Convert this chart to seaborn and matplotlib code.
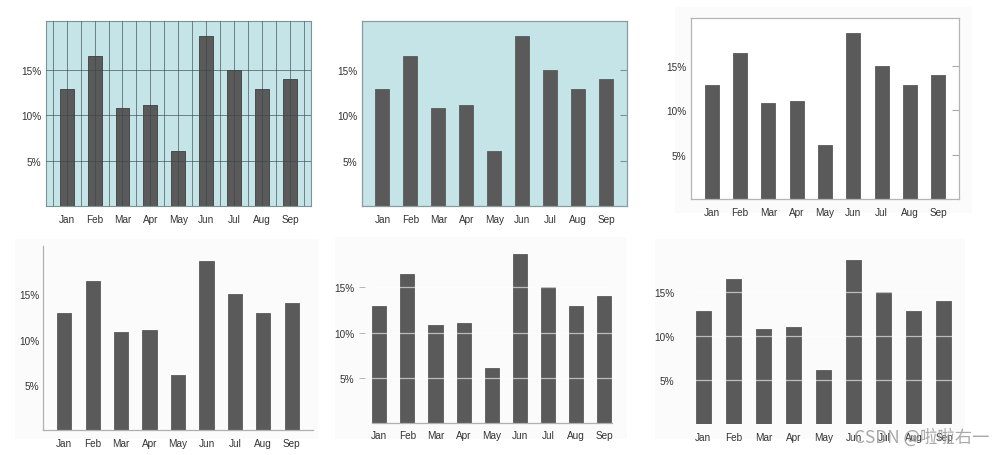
import matplotlib
matplotlib.use("Agg")
import matplotlib.pyplot as plt
import seaborn as sns
from matplotlib.patches import Rectangle

months = ["Jan", "Feb", "Mar", "Apr", "May", "Jun", "Jul", "Aug", "Sep"]
values = [12.9, 16.5, 10.8, 11.1, 6.1, 18.7, 15.0, 12.9, 14.0]
ytick_vals = [5, 10, 15]
ytick_labels = ["5%", "10%", "15%"]

sns.set_style("white")
plt.rcParams['font.family'] = ['Liberation Sans', 'Noto Sans CJK SC', 'DejaVu Sans']

W, H = 1005, 456
fig = plt.figure(figsize=(W / 100, H / 100), dpi=100)
fig.patch.set_facecolor("white")

BAR = "#5a5a5a"
TEAL = "#c4e4e7"
FS = 7.2


def rect(x0, y0, x1, y1):
    return [x0 / W, 1 - y1 / H, (x1 - x0) / W, (y1 - y0) / H]


def bg(x0, y0, x1, y1, c="#fbfbfb"):
    fig.patches.append(Rectangle((x0 / W, 1 - y1 / H), (x1 - x0) / W, (y1 - y0) / H,
                                 transform=fig.transFigure, facecolor=c,
                                 edgecolor="none", zorder=-5))


def base(ax, edge=None):
    sns.barplot(x=months, y=values, ax=ax, color=BAR, saturation=1, width=0.5,
                edgecolor=edge if edge else BAR, linewidth=0.6, zorder=2)
    ax.set_xlabel("")
    ax.set_ylabel("")
    ax.set_yticks(ytick_vals)
    ax.set_yticklabels(ytick_labels)
    ax.set_ylim(0, 20.4)
    ax.tick_params(axis="both", labelsize=FS, colors="#333333")
    for lab in ax.get_xticklabels() + ax.get_yticklabels():
        lab.set_color("#333333")


# faint panel backgrounds
bg(675, 8, 972, 214)
bg(15, 240, 318, 440)
bg(335, 238, 627, 440)
bg(655, 240, 965, 440)

# Panel 1: teal with full grid
ax1 = fig.add_axes(rect(45.7, 22, 311, 207))
base(ax1, edge="#3f3f3f")
ax1.set_facecolor(TEAL)
ax1.set_xlim(-0.75, 8.75)
ax1.set_xticks([i - 0.5 for i in range(10)], minor=True)
ax1.grid(True, axis="x", which="both", color="#3a4a4b", linewidth=0.6, alpha=0.75)
ax1.grid(True, axis="y", which="major", color="#3a4a4b", linewidth=0.6, alpha=0.75)
ax1.set_axisbelow(False)
ax1.tick_params(axis="both", which="both", length=0, pad=3)
ax1.tick_params(axis="x", pad=6)
for s in ax1.spines.values():
    s.set_color("#7f9293")
    s.set_linewidth(0.8)

# Panel 2: teal, no grid, ticks inward on right
ax2 = fig.add_axes(rect(361.7, 21.7, 626.7, 207))
base(ax2)
ax2.set_facecolor(TEAL)
ax2.set_xlim(-0.74, 8.74)
ax2.tick_params(axis="x", length=0, pad=6)
ax2.tick_params(axis="y", left=False, right=True, direction="in", length=5,
                color="#7f9293", labelleft=True, labelright=False, pad=3)
for s in ax2.spines.values():
    s.set_color("#8a9c9d")
    s.set_linewidth(0.9)

# Panel 3: white framed, ticks inward on right
ax3 = fig.add_axes(rect(690.7, 19.3, 959.3, 200))
base(ax3)
ax3.set_facecolor("white")
ax3.set_xlim(-0.74, 8.74)
ax3.tick_params(axis="x", length=0, pad=6)
ax3.tick_params(axis="y", left=False, right=True, direction="in", length=5,
                color="#aaaaaa", labelleft=True, labelright=False, pad=3)
for s in ax3.spines.values():
    s.set_color("#b5b5b5")
    s.set_linewidth(0.9)

# Panel 4: left + bottom spines only
ax4 = fig.add_axes(rect(43.3, 246.7, 313, 430.7))
base(ax4)
ax4.set_facecolor("none")
ax4.set_xlim(-0.74, 8.75)
ax4.tick_params(axis="both", length=0, pad=3)
ax4.tick_params(axis="x", pad=6)
for k in ["top", "right"]:
    ax4.spines[k].set_visible(False)
for k in ["left", "bottom"]:
    ax4.spines[k].set_color("#b0b0b0")
    ax4.spines[k].set_linewidth(0.9)

# Panel 5: bottom spine, white grid over bars, offset ticks
ax5 = fig.add_axes(rect(371.7, 239.3, 611.7, 424.3))
base(ax5)
ax5.set_facecolor("none")
ax5.set_xlim(-0.27, 8.27)
ax5.grid(True, axis="y", color="white", linewidth=0.9, alpha=0.6)
ax5.set_axisbelow(False)
for k in ["top", "right"]:
    ax5.spines[k].set_visible(False)
ax5.spines["left"].set_position(("outward", 5))
ax5.spines["left"].set_visible(False)
ax5.spines["bottom"].set_color("#b0b0b0")
ax5.spines["bottom"].set_linewidth(0.9)
ax5.tick_params(axis="y", left=True, length=4.5, width=0.6, color="#aaaaaa", pad=3)
ax5.tick_params(axis="x", length=0, pad=5)

# Panel 6: no spines, white grid over bars
ax6 = fig.add_axes(rect(695.2, 245.9, 952.1, 425))
base(ax6)
ax6.set_facecolor("none")
ax6.set_xlim(-0.27, 8.27)
ax6.grid(True, axis="y", color="white", linewidth=0.9, alpha=0.6)
ax6.set_axisbelow(False)
for s in ax6.spines.values():
    s.set_visible(False)
ax6.tick_params(axis="y", length=0, pad=15)
ax6.tick_params(axis="x", length=0, pad=6)

fig.text(0.985, 1 - 438 / H, "CSDN @啦啦右一", ha="right", va="center",
         fontsize=12.5, color="#9a9a9a", alpha=0.85,
         family=['Noto Sans CJK SC', 'DejaVu Sans'])

fig.savefig("out.png", dpi=100)
